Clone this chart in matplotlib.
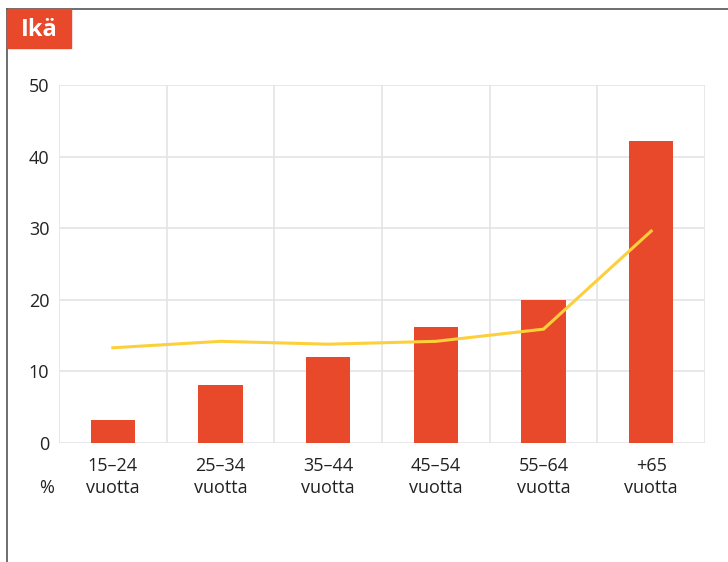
import numpy as np
import matplotlib.pyplot as plt
from matplotlib.patches import Rectangle
from matplotlib.lines import Line2D

plt.rcParams['font.family'] = ['Open Sans', 'DejaVu Sans']

categories = ['15–24\nvuotta', '25–34\nvuotta', '35–44\nvuotta',
              '45–54\nvuotta', '55–64\nvuotta', '+65\nvuotta']
bar_values = [3.2, 8.1, 12.0, 16.2, 20.0, 42.2]
line_values = [13.3, 14.2, 13.8, 14.2, 15.9, 29.6]
yticks = [0, 10, 20, 30, 40, 50]

RED = '#e8492a'
YELLOW = '#fdd03b'
GRID = '#e4e4e8'
TEXT = '#222222'

fig = plt.figure(figsize=(7.28, 5.62), dpi=100)
W, H = 728, 562
ax = fig.add_axes([59 / W, 1 - 443 / H, (705 - 59) / W, (443 - 85) / H])

x = np.arange(len(categories))
ax.bar(x, bar_values, width=0.41, color=RED, zorder=3)
ax.plot(x, line_values, color=YELLOW, lw=2.2, zorder=4, solid_joinstyle='miter')

ax.set_xlim(-0.5, len(categories) - 0.5)
ax.set_ylim(0, 50)
ax.set_yticks(yticks)
ax.set_xticks(x)
ax.set_xticklabels(categories, fontsize=13, color=TEXT, linespacing=1.3)
ax.tick_params(axis='y', labelsize=13, colors=TEXT, length=0, pad=7)
ax.tick_params(axis='x', length=0, pad=10)
for lab in ax.get_yticklabels():
    lab.set_color(TEXT)

# grid: horizontal at ticks, vertical at category boundaries
for v in yticks:
    ax.axhline(v, color=GRID, lw=1.2, zorder=1)
for b in np.arange(-0.5, len(categories), 1.0):
    ax.axvline(b, color=GRID, lw=1.2, zorder=1)
for s in ax.spines.values():
    s.set_visible(False)

fig.text(47 / W, 1 - 488 / H, '%', fontsize=13, color=TEXT, ha='center', va='center')

# outer frame lines (left and top)
fig.add_artist(Line2D([7 / W, 7 / W], [0, 1 - 9 / H], color='#555555', lw=1.2))
fig.add_artist(Line2D([7 / W, 1], [1 - 9 / H, 1 - 9 / H], color='#555555', lw=1.2))

# title box
fig.add_artist(Rectangle((7 / W, 1 - 48 / H), (71 - 7) / W, (48 - 9) / H,
                         transform=fig.transFigure, color=RED, zorder=5))
fig.text(39 / W, 1 - 30 / H, 'Ikä', fontsize=17, fontweight='bold', color='white',
         ha='center', va='center', zorder=6)

fig.savefig('out.png', dpi=100)
